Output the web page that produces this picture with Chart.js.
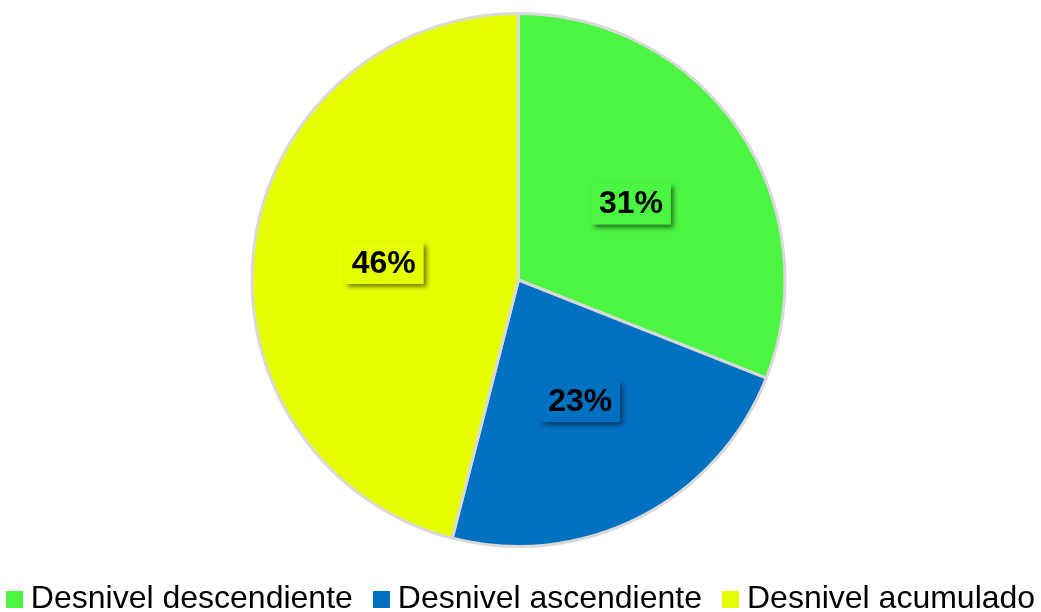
<!DOCTYPE html>
<html>
<head>
<meta charset="utf-8">
<script src="https://cdn.jsdelivr.net/npm/chart.js@4"></script>
<style>
  html, body { margin: 0; padding: 0; background: #fff; }
  #wrap { width: 1041px; height: 612px; position: relative; }
  #legend {
    position: absolute; left: 0; top: 581px; width: 1041px;
    display: flex; justify-content: center; gap: 20px;
    font: 32px/32px "Liberation Sans", Arial, sans-serif; color: #000; white-space: nowrap;
  }
  #legend span.sw {
    display: inline-block; width: 17px; height: 17px; margin-right: 8px; vertical-align: baseline;
  }
</style>
</head>
<body>
<div id="wrap"><canvas id="pie"></canvas><div id="legend"></div></div>
<script>
const categories = ['Desnivel descendiente', 'Desnivel ascendiente', 'Desnivel acumulado']
const values = [31, 23, 46]
const colors = ['#4CF542', '#0070C0', '#E6FF00']

// percentage boxes inside each slice, with a small drop shadow
const boxLabels = {
  id: 'boxLabels',
  afterDatasetsDraw(chart) {
    const ctx = chart.ctx
    const meta = chart.getDatasetMeta(0)
    const total = values.reduce((a, b) => a + b, 0)
    ctx.save()
    ctx.font = 'bold 32px "Liberation Sans", Arial, sans-serif'
    ctx.textAlign = 'center'
    ctx.textBaseline = 'middle'
    meta.data.forEach((arc, i) => {
      const mid = (arc.startAngle + arc.endAngle) / 2
      const r = arc.outerRadius * 0.51
      const x = arc.x + Math.cos(mid) * r
      const y = arc.y + Math.sin(mid) * r
      const txt = Math.round(values[i] / total * 100) + '%'
      const w = ctx.measureText(txt).width + 16
      const h = 42
      ctx.save()
      ctx.shadowColor = 'rgba(0,0,0,0.55)'
      ctx.shadowBlur = 5
      ctx.shadowOffsetX = 3
      ctx.shadowOffsetY = 3
      ctx.fillStyle = colors[i]
      ctx.fillRect(x - w / 2, y - h / 2, w, h)
      ctx.restore()
      ctx.fillStyle = '#000'
      ctx.fillText(txt, x, y + 1)
    })
    ctx.restore()
  }
}

const chart = new Chart(document.getElementById('pie'), {
  type: 'pie',
  data: {
    labels: categories,
    datasets: [{
      data: values,
      backgroundColor: colors,
      borderColor: '#d9d9d9',
      borderWidth: 3
    }]
  },
  options: {
    responsive: true,
    maintainAspectRatio: false,
    animation: false,
    layout: { padding: { top: 12, bottom: 64, right: 4 } },
    plugins: {
      tooltip: { enabled: false },
      legend: { display: false }
    }
  },
  plugins: [boxLabels]
})

// legend row under the pie
const legend = document.getElementById('legend')
chart.data.labels.forEach((name, i) => {
  const item = document.createElement('div')
  const sw = document.createElement('span')
  sw.className = 'sw'
  sw.style.background = colors[i]
  item.appendChild(sw)
  item.appendChild(document.createTextNode(name))
  legend.appendChild(item)
})
</script>
</body>
</html>
